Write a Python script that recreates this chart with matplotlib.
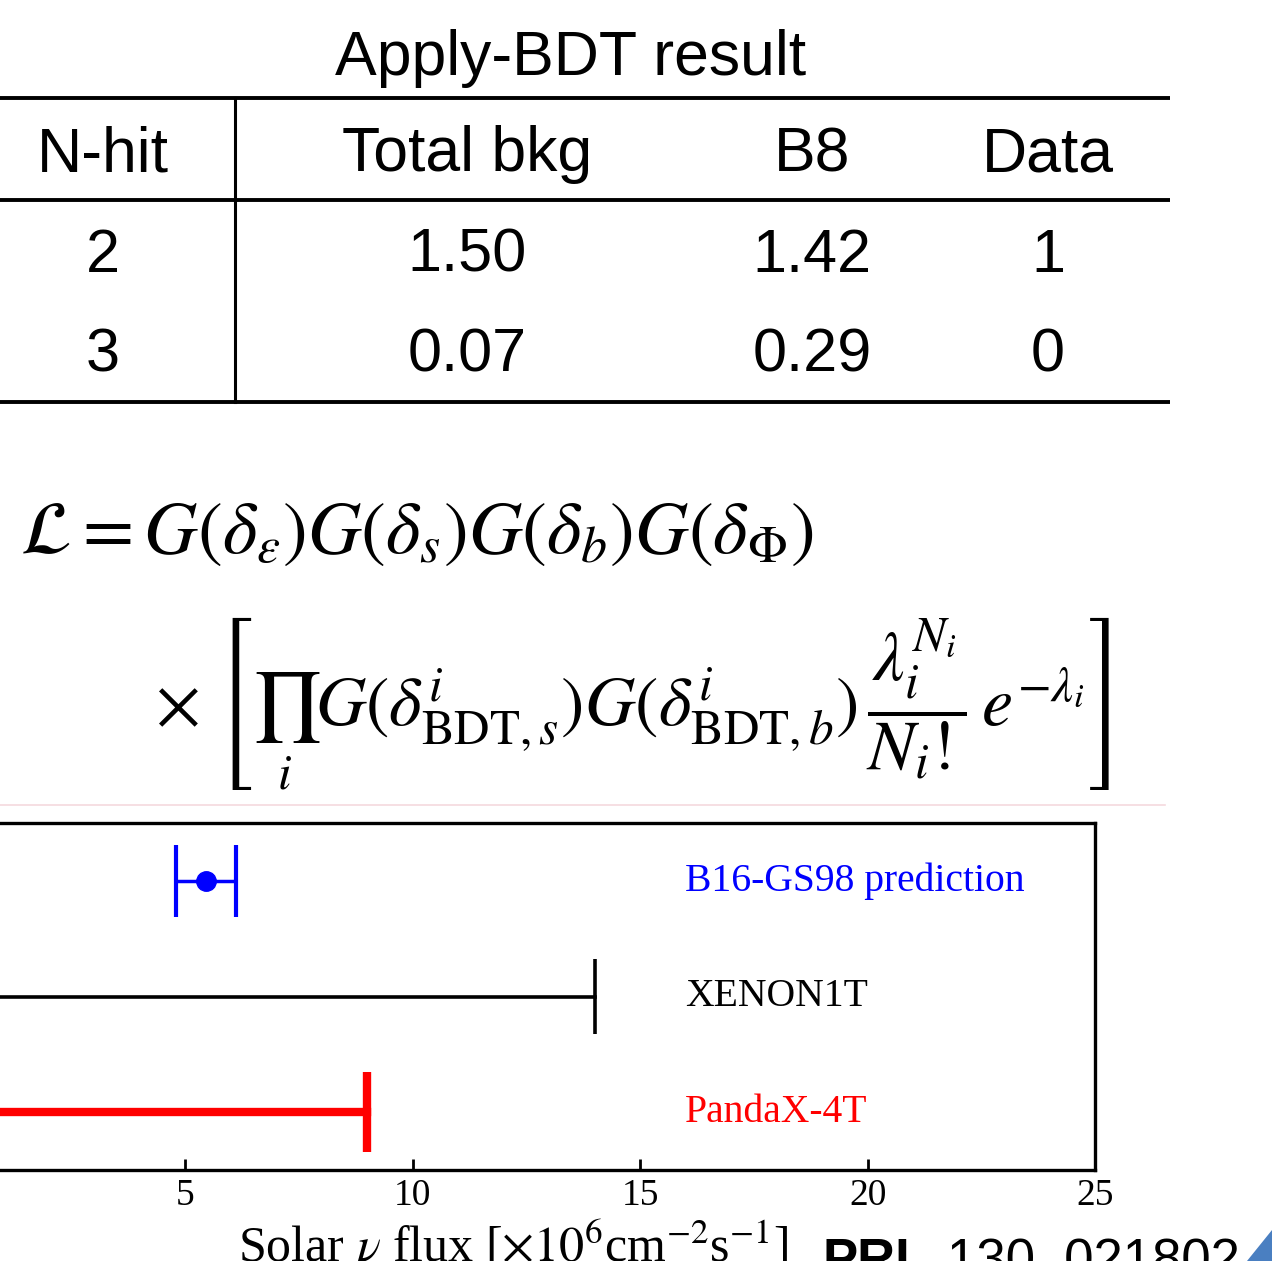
import matplotlib
matplotlib.use("Agg")
import matplotlib.pyplot as plt
from matplotlib.patches import Polygon

# ==========================
# Data
# ==========================

table_title = "Apply-BDT result"
headers = ["N-hit", "Total bkg", "B8", "Data"]
nhit = ["2", "3"]
total_bkg = ["1.50", "0.07"]
b8 = ["1.42", "0.29"]
data_counts = ["1", "0"]

labels = ["B16-GS98 prediction", "XENON1T", "PandaX-4T"]
label_colors = ["blue", "black", "red"]
pred_value = 5.46
pred_err = 0.66
xenon_limit = 14.0
pandax_limit = 9.0
xticks = [5, 10, 15, 20, 25]

W, H = 1272, 1261
plt.rcParams["mathtext.fontset"] = "stix"

fig = plt.figure(figsize=(W / 100, H / 100), dpi=100)

# overlay axes in pixel coords for table / equation / footer
ov = fig.add_axes([0, 0, 1, 1])
ov.set_xlim(0, W)
ov.set_ylim(H, 0)
ov.axis("off")
ov.patch.set_visible(False)

sans = "Liberation Sans"

# ==========================
# Table
# ==========================

ov.text(571, 58, table_title, ha="center", va="center", fontsize=45, family=sans)

col_x = [103, 467, 812, 1048]
row_y = [155, 256, 356]
for cx, h in zip(col_x, headers):
    ov.text(cx, row_y[0], h, ha="center", va="center", fontsize=45, family=sans)
for i in range(len(nhit)):
    vals = [nhit[i], total_bkg[i], b8[i], data_counts[i]]
    for cx, v in zip(col_x, vals):
        ov.text(cx, row_y[i + 1], v, ha="center", va="center", fontsize=44, family=sans)

for yy in [98, 200, 402]:
    ov.plot([0, 1170], [yy, yy], color="black", lw=2.8, solid_capstyle="butt")
ov.plot([235, 235], [98, 402], color="black", lw=2.2)

# ==========================
# Likelihood
# ==========================

ov.text(20, 532, r"$\mathcal{L} = G(\delta_{\epsilon})G(\delta_s)G(\delta_b)G(\delta_{\Phi})$",
        ha="left", va="center", fontsize=53.5)
ov.text(155, 704, r"$\times\ \left[\prod_{i}G(\delta^{i}_{\mathrm{BDT},s})G(\delta^{i}_{\mathrm{BDT},b})"
        r"\,\dfrac{\lambda_i^{N_i}}{N_i!}\,e^{-\lambda_i}\right]$",
        ha="left", va="center", fontsize=50.5)

ov.plot([0, 1165], [805, 805], color="#f5d9de", lw=1.2)

# ==========================
# Flux plot
# ==========================

ax = fig.add_axes([-42 / W, (H - 1170) / H, (1095 + 42) / W, 347 / H])
ax.set_xlim(0, 25)
ax.set_ylim(0, 3)
rows = [2.5, 1.5, 0.5]

ax.errorbar(pred_value, rows[0], xerr=pred_err, fmt="o", color="blue", ms=14,
            elinewidth=2.5, capsize=26, capthick=3)
ax.plot([0, xenon_limit], [rows[1], rows[1]], color="black", lw=2.6)
ax.vlines(xenon_limit, rows[1] - 0.32, rows[1] + 0.32, color="black", lw=2.6)
ax.plot([0, pandax_limit], [rows[2], rows[2]], color="red", lw=6)
ax.vlines(pandax_limit, rows[2] - 0.345, rows[2] + 0.345, color="red", lw=6)

for r, lab, c in zip(rows, labels, label_colors):
    ax.text(15.98, r, lab, color=c, ha="left", va="center", fontsize=28.5, family="Liberation Serif")

ax.set_xticks(xticks)
ax.set_xticklabels([str(t) for t in xticks], family="Liberation Serif", fontsize=27)
ax.set_yticks([])
ax.tick_params(axis="x", direction="in", length=8, width=2, pad=6)
for s in ax.spines.values():
    s.set_linewidth(2.4)

ov.text(513, 1220, r"Solar $\nu$ flux [$\times10^{6}$cm$^{-2}$s$^{-1}$]", ha="center", va="top",
        fontsize=36, family="Liberation Serif")

# footer reference
ov.text(823, 1237, "PRL", ha="left", va="top", fontsize=38, family=sans, weight="bold")
ov.text(947, 1237, "130, 021802", ha="left", va="top", fontsize=38, family=sans)
ov.add_patch(Polygon([(1247, 1261), (1272, 1261), (1272, 1230)], closed=True,
                     color="#4a7fc1", lw=0))

fig.savefig("out.png", dpi=100)
